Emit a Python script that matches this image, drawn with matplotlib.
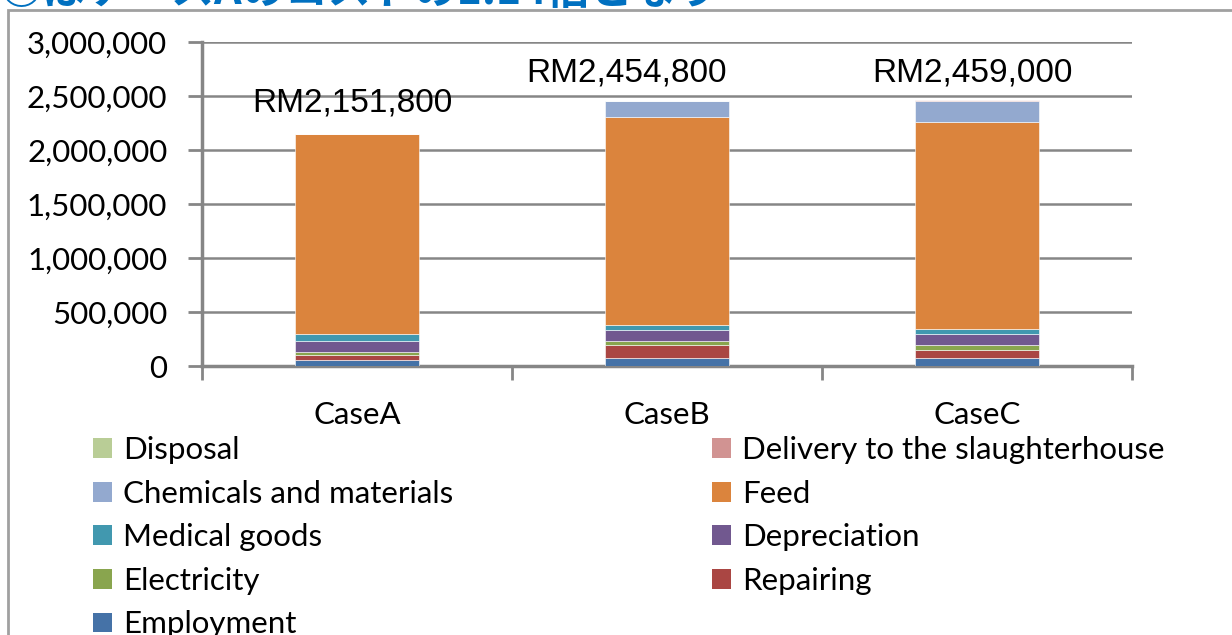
import matplotlib.pyplot as plt
from matplotlib.patches import Patch, Rectangle
import numpy as np

# categories and stacked cost items (RM)
cases = ['CaseA', 'CaseB', 'CaseC']
employment = [55000, 71000, 77000]
repairing = [50000, 120000, 74000]
electricity = [28000, 37000, 43000]
depreciation = [102000, 102000, 102000]
medical = [59000, 52000, 49000]
feed = [1855800, 1922800, 1915000]
chemicals = [2000, 150000, 194000]
delivery = [0, 0, 5000]
disposal = [0, 0, 0]
totals = ['RM2,151,800', 'RM2,454,800', 'RM2,459,000']
yticks = [0, 500000, 1000000, 1500000, 2000000, 2500000, 3000000]

series = [
    ('Employment', employment, '#4572A7'),
    ('Repairing', repairing, '#AA4643'),
    ('Electricity', electricity, '#89A54E'),
    ('Depreciation', depreciation, '#71588F'),
    ('Medical goods', medical, '#4198AF'),
    ('Feed', feed, '#DB843D'),
    ('Chemicals and materials', chemicals, '#93A9CF'),
    ('Delivery to the slaughterhouse', delivery, '#D19392'),
    ('Disposal', disposal, '#B9CD96'),
]

plt.rcParams['font.family'] = ['Lato', 'DejaVu Sans']
grey = '#868686'

fig = plt.figure(figsize=(12.32, 6.35), dpi=100)

# outer chart frame (cut off at right and bottom)
fig.patches.append(Rectangle((8 / 1232, -0.1), 1.2, 1 - 10 / 635 + 0.1,
                             transform=fig.transFigure, fill=False,
                             edgecolor='#A0A0A0', linewidth=2))

# japanese heading, mostly cut off above the frame
fig.text(0, 1 - 4 / 635, '○はケースAのコストの1.14倍となり', color='#0070C0',
         fontsize=31, fontweight='bold', va='baseline', ha='left',
         family=['Noto Sans CJK JP', 'DejaVu Sans'])

ax = fig.add_axes([202 / 1232, 1 - 366 / 635, 930 / 1232, 324 / 635])
x = np.arange(len(cases))
bottom = np.zeros(len(cases))
handles = {}
for name, vals, col in series:
    ax.bar(x, vals, 0.4, bottom=bottom, color=col, edgecolor='white',
           linewidth=0.4, zorder=3)
    bottom += np.array(vals)
    handles[name] = Patch(facecolor=col)

# total labels above the bars
label_y = [2435000, 2713000, 2713000]
label_dx = [-0.015, -0.13, -0.015]
for i, t in enumerate(totals):
    ax.text(x[i] + label_dx[i], label_y[i], t, ha='center', va='center',
            fontsize=24, family=['Liberation Sans', 'DejaVu Sans'], zorder=4)

ax.set_xlim(-0.5, 2.5)
ax.set_ylim(0, 3000000)
ax.set_yticks(yticks)
ax.set_yticklabels([f'{v:,}' for v in yticks])
ax.set_xticks(x)
ax.set_xticklabels(cases)
ax.set_xticks([-0.5, 0.5, 1.5, 2.5], minor=True)
ax.tick_params(axis='x', which='major', length=0, pad=25, labelsize=22.5)
ax.tick_params(axis='x', which='minor', length=10, width=2, color=grey)
ax.tick_params(axis='y', length=10, width=2, color=grey, pad=15, labelsize=22.5)
ax.yaxis.grid(True, color=grey, linewidth=1.8, zorder=0)
for s in ['top', 'right']:
    ax.spines[s].set_visible(False)
for s in ['left', 'bottom']:
    ax.spines[s].set_color(grey)
    ax.spines[s].set_linewidth(2.5)
ax.set_facecolor('none')

col1 = ['Disposal', 'Chemicals and materials', 'Medical goods', 'Electricity', 'Employment']
col2 = ['Delivery to the slaughterhouse', 'Feed', 'Depreciation', 'Repairing']
leg_kw = dict(frameon=False, fontsize=22.5, handlelength=0.6, handleheight=0.6,
              handletextpad=0.35, labelspacing=0.5, borderaxespad=0, borderpad=0,
              loc='upper left')
l1 = fig.legend([handles[n] for n in col1], col1,
                bbox_to_anchor=(93 / 1232, 1 - 436 / 635), **leg_kw)
l2 = fig.legend([handles[n] for n in col2], col2,
                bbox_to_anchor=(712 / 1232, 1 - 436 / 635), **leg_kw)

fig.savefig('out.png', dpi=100)
